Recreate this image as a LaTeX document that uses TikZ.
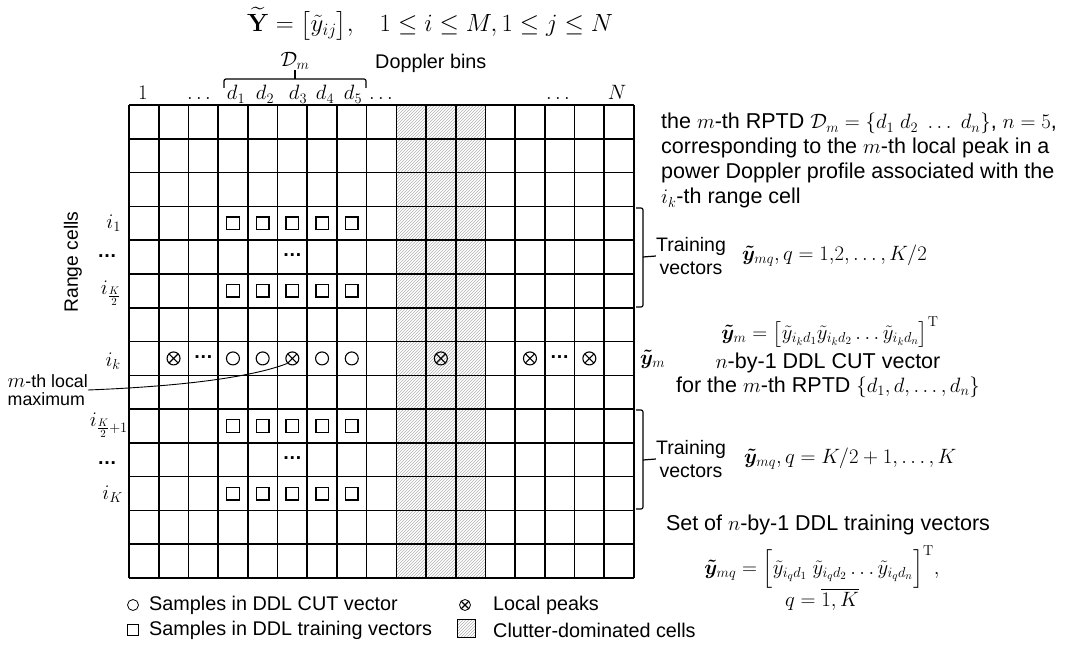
\documentclass[tikz,border=0pt]{standalone}
\usepackage{amsmath,amssymb,bm}
\usepackage[no-math]{fontspec}
\setmainfont{Liberation Sans}
\DeclareMathSizes{19.5}{21.5}{15}{11}
\DeclareMathSizes{19.8}{21.5}{15}{11}
\DeclareMathSizes{21.5}{21.5}{15}{11}
\DeclareMathSizes{17.8}{21}{15}{11}
\DeclareMathSizes{22}{24}{17}{12}
\usetikzlibrary{patterns}
\tikzset{
  gridline/.style={line width=1.6pt},
  cutmark/.style={circle, draw, line width=1.1pt, minimum size=13pt, inner sep=0pt},
  trnmark/.style={rectangle, draw, line width=1.4pt, minimum size=12.5pt, inner sep=0pt},
  peakmark/.style={cutmark, path picture={\draw[line width=1.1pt]
      (path picture bounding box.north west) -- (path picture bounding box.south east)
      (path picture bounding box.north east) -- (path picture bounding box.south west);}},
  hatch/.style={pattern=north east lines, pattern color=gray!60},
  lbl/.style={inner sep=0pt},
  bracket/.style={line width=1.2pt, rounded corners=2pt},
  dotsb/.style={lbl, font=\fontsize{19.5}{21}\selectfont\bfseries},
  big/.style={font=\fontsize{21.5}{25}\selectfont},
  leg/.style={lbl, anchor=west, font=\fontsize{19.8}{22}\selectfont},
  desc/.style={lbl, anchor=base west, big}
}
\begin{document}
\begin{tikzpicture}[x=1pt, y=-1pt, font=\fontsize{19.5}{22}\selectfont]
\useasboundingbox (0,0) rectangle (1083,660);
% title
\node[lbl, font=\fontsize{22}{26}\selectfont] (title) at (430,24) {$\widetilde{\mathbf{Y}} = \bigl[\tilde{y}_{ij}\bigr],\quad 1\le i\le M, 1\le j\le N$};
% grid
\begin{scope}[shift={(129,105)}, x=29.7pt, y=-33.79pt]
  \fill[hatch] (9,0) rectangle (12,14);
  \foreach \c in {0,...,17} \draw[gridline] (\c,0) -- (\c,14);
  \foreach \r in {0,...,14} \draw[gridline] (0,\r) -- (17,\r);
  % training samples
  \foreach \r in {4,6,10,12} \foreach \c in {4,...,8}
    \node[trnmark] (t-\r-\c) at (\c-0.5,\r-0.5) {};
  \node[dotsb] (td1) at (5.5,4.45) {…};
  \node[dotsb] (td2) at (5.5,10.45) {…};
  % CUT row
  \node[peakmark] (p2) at (1.5,7.5) {};
  \node[dotsb] (cd1) at (2.5,7.45) {…};
  \node[cutmark] (c4) at (3.5,7.5) {};
  \node[cutmark] (c5) at (4.5,7.5) {};
  \node[peakmark] (pk) at (5.5,7.5) {};
  \node[cutmark] (c7) at (6.5,7.5) {};
  \node[cutmark] (c8) at (7.5,7.5) {};
  \node[peakmark] (p11) at (10.5,7.5) {};
  \node[peakmark] (p14) at (13.5,7.5) {};
  \node[dotsb] (cd2) at (14.5,7.45) {…};
  \node[peakmark] (p16) at (15.5,7.5) {};
\end{scope}
% column labels
\node[lbl, anchor=base] (col1) at (143,100) {$1$};
\node[lbl, anchor=base] (col3) at (199,100) {$\ldots$};
\node[lbl, anchor=base] (d1) at (236,100) {$d_1$};
\node[lbl, anchor=base] (d2) at (265,100) {$d_2$};
\node[lbl, anchor=base] (d3) at (298,100) {$d_3$};
\node[lbl, anchor=base] (d4) at (325,100) {$d_4$};
\node[lbl, anchor=base] (d5) at (353,100) {$d_5$};
\node[lbl, anchor=base] (col9) at (381,100) {$\ldots$};
\node[lbl, anchor=base] (col15) at (558,100) {$\ldots$};
\node[lbl, anchor=base] (colN) at (617,100) {$N$};
\node[lbl] (Dm) at (295,61) {$\mathcal{D}_m$};
\node[leg] (dop) at (375,63) {Doppler bins};
\draw[bracket] (224,88) |- (366,79) -- (366,88);
\draw[line width=1.2pt] (295,79) -- (Dm.south);
% row labels
\node[lbl, rotate=90, font=\fontsize{19.3}{22}\selectfont] (range) at (73,262) {Range cells};
\node[lbl, anchor=east] (r1) at (121,223) {$i_1$};
\node[dotsb, anchor=east] (r2) at (117,256) {…};
\node[lbl, anchor=east] (r3) at (121,293) {$i_{\frac{K}{2}}$};
\node[lbl, anchor=east] (rk) at (121,361) {$i_k$};
\node[lbl, anchor=east] (r4) at (128,425) {$i_{\frac{K}{2}+1}$};
\node[dotsb, anchor=east] (r5) at (117,463) {…};
\node[lbl, anchor=east] (r6) at (123,494) {$i_K$};
\node[lbl, anchor=east, align=left, font=\fontsize{17.8}{18.5}\selectfont] (lm) at (88,390) {$m$-th local\\maximum};
\draw[line width=0.9pt] (lm.east) .. controls (190,386) and (255,376) .. (pk.south west);
% right side
\node[desc] (desc1) at (661,129) {the $m$-th RPTD $\mathcal{D}_m=\{d_1\ d_2\ \ldots\ d_n\}$, $n=5$,};
\node[desc] (desc2) at (661,154) {corresponding to the $m$-th local peak in a};
\node[desc] (desc3) at (661,179) {power Doppler profile associated with the};
\node[desc] (desc4) at (661,204) {$i_k$-th range cell};
\draw[bracket] (636,208) -| (643,307) -- (636,307);
\coordinate (b1) at (643,257);
\node[lbl, align=center, font=\fontsize{19.5}{23}\selectfont] (tr1) at (691,256) {Training\\vectors};
\draw[line width=1.2pt] (b1) -- (tr1.west);
\node[lbl, anchor=west] (f1) at (742,256) {$\bm{\tilde{y}}_{mq}, q=1{,}2,\ldots,K/2$};
\node[lbl] (f2) at (830,332) {$\bm{\tilde{y}}_m = \bigl[\tilde{y}_{i_k d_1}\tilde{y}_{i_k d_2}\ldots\tilde{y}_{i_k d_n}\bigr]^{\mathrm{T}}$};
\node[lbl, anchor=west] (ym) at (640,359) {$\bm{\tilde{y}}_m$};
\node[lbl, big] (cut1) at (828,363) {$n$-by-1 DDL CUT vector};
\node[lbl, big] (cut2) at (828,387) {for the $m$-th RPTD $\{d_1, d, \ldots, d_n\}$};
\draw[bracket] (636,410) -| (643,509) -- (636,509);
\coordinate (b2) at (643,460);
\node[lbl, align=center, font=\fontsize{19.5}{23}\selectfont] (tr2) at (691,459) {Training\\vectors};
\draw[line width=1.2pt] (b2) -- (tr2.west);
\node[lbl, anchor=west] (f3) at (744,459) {$\bm{\tilde{y}}_{mq}, q=K/2+1,\ldots,K$};
\node[lbl, big] (set1) at (828,525) {Set of $n$-by-1 DDL training vectors};
\node[lbl] (f4) at (822,567) {$\bm{\tilde{y}}_{mq} = \Bigl[\tilde{y}_{i_q d_1}\ \tilde{y}_{i_q d_2}\ldots\tilde{y}_{i_q d_n}\Bigr]^{\mathrm{T}},$};
\node[lbl] (f5) at (822,599) {$q=\overline{1,K}$};
% legend
\node[cutmark, line width=0.8pt, minimum size=11pt] (lg1) at (133,605) {};
\node[leg] (lg1t) at (149,605) {Samples in DDL CUT vector};
\node[trnmark, line width=0.8pt, minimum size=11pt] (lg2) at (133,630) {};
\node[leg] (lg2t) at (149,630) {Samples in DDL training vectors};
\node[peakmark, line width=0.8pt, minimum size=11pt] (lg3) at (465,605) {};
\node[leg] (lg3t) at (493,605) {Local peaks};
\node[draw, hatch, line width=0.8pt, minimum size=18pt, inner sep=0pt] (lg4) at (466,628) {};
\node[leg] (lg4t) at (493,630) {Clutter-dominated cells};
\end{tikzpicture}
\end{document}
